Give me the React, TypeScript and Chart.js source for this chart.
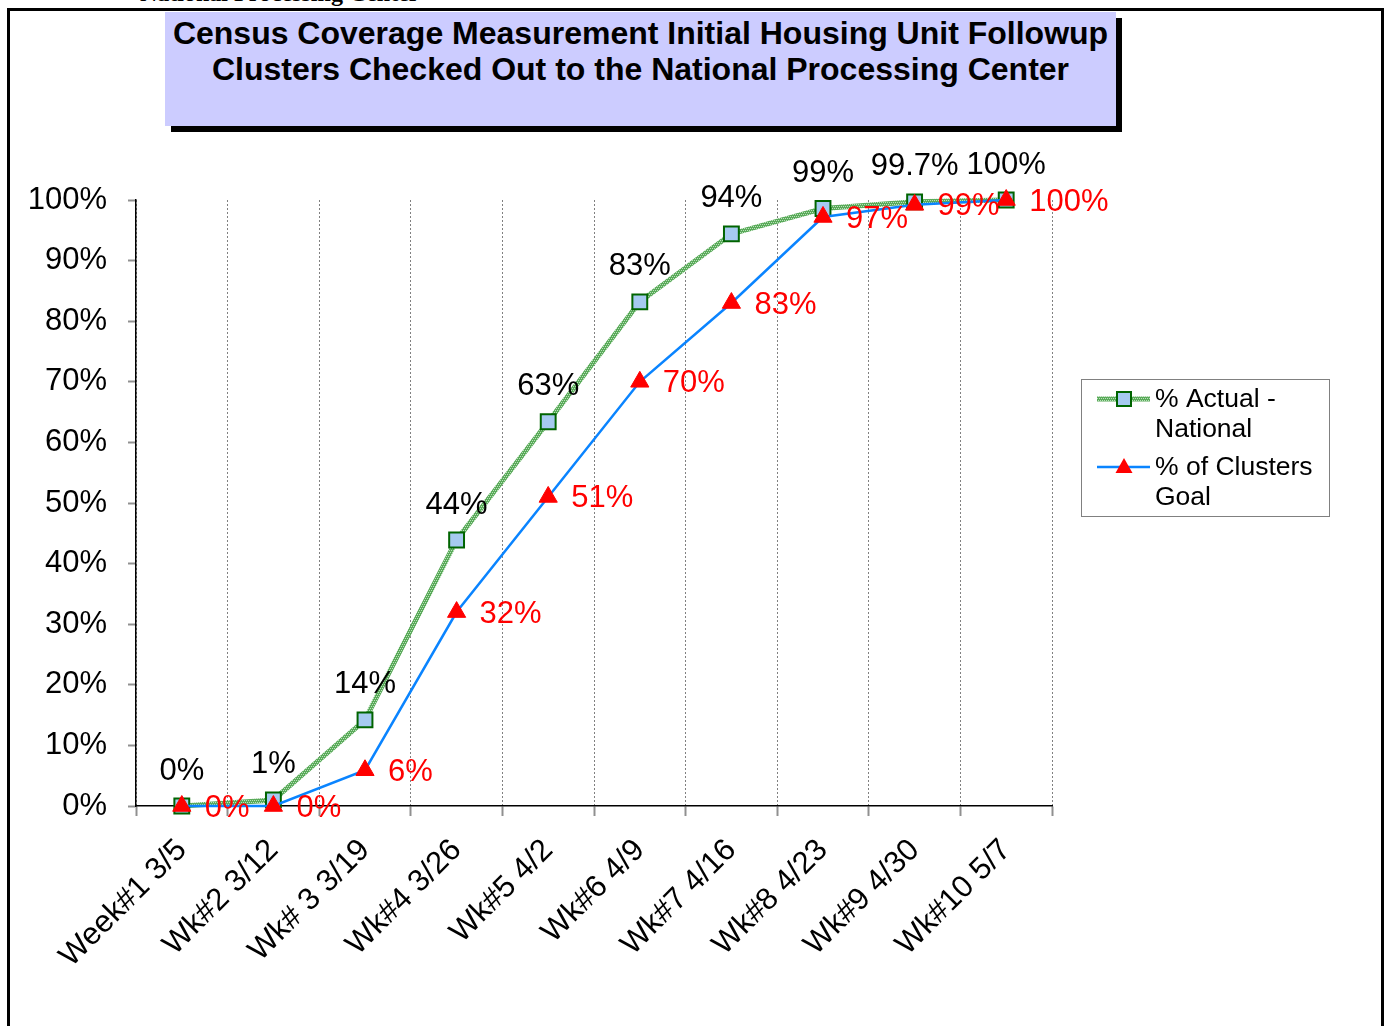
import React, { useEffect, useRef } from 'react';
import { Chart, registerables } from 'chart.js';

Chart.register(...registerables);

const categories = ['Week#1 3/5', 'Wk#2 3/12', 'Wk# 3 3/19', 'Wk#4 3/26', 'Wk#5 4/2', 'Wk#6 4/9', 'Wk#7 4/16', 'Wk#8 4/23', 'Wk#9 4/30', 'Wk#10 5/7'];
const actualValues = [0, 1, 14.2, 43.9, 63.4, 83.2, 94.4, 98.6, 99.7, 100];
const actualLabels = ['0%', '1%', '14%', '44%', '63%', '83%', '94%', '99%', '99.7%', '100%'];
const goalValues = [0, 0, 5.9, 32, 51, 70, 83, 97.2, 99.2, 100];
const goalLabels = ['0%', '0%', '6%', '32%', '51%', '70%', '83%', '97%', '99%', '100%'];
const seriesNames = [['% Actual -', 'National'], ['% of Clusters', 'Goal']];
const titleLines = ['Census Coverage Measurement Initial Housing Unit Followup', 'Clusters Checked Out to the National Processing Center'];
const yMin = 0;
const yMax = 100;
const yStep = 10;

const FONT = '"Liberation Sans", Arial, sans-serif';

function makePattern(): CanvasPattern | string {
  const c = document.createElement('canvas');
  c.width = 4;
  c.height = 4;
  const g = c.getContext('2d');
  if (!g) return '#66B366';
  g.fillStyle = '#5AAA5A';
  g.fillRect(0, 0, 4, 4);
  g.fillStyle = '#B9E2B9';
  g.fillRect(0, 0, 1, 1);
  g.fillRect(2, 0, 1, 1);
  g.fillRect(1, 2, 1, 1);
  g.fillRect(3, 2, 1, 1);
  const p = g.createPattern(c, 'repeat');
  return p || '#66B366';
}

export default function App() {
  const ref = useRef<HTMLCanvasElement>(null);

  useEffect(() => {
    if (!ref.current) return;
    const pattern = makePattern();

    const drawSquare = (ctx: CanvasRenderingContext2D, x: number, y: number) => {
      ctx.fillStyle = '#A6CAF0';
      ctx.strokeStyle = '#006400';
      ctx.lineWidth = 2;
      ctx.fillRect(x - 7, y - 7, 14, 14);
      ctx.strokeRect(x - 7, y - 7, 14, 14);
    };
    const drawTriangle = (ctx: CanvasRenderingContext2D, x: number, y: number) => {
      ctx.fillStyle = '#FF0000';
      ctx.beginPath();
      ctx.moveTo(x, y - 9);
      ctx.lineTo(x + 8.5, y + 6);
      ctx.lineTo(x - 8.5, y + 6);
      ctx.closePath();
      ctx.fill();
    };

    const labelsPlugin = {
      id: 'valueLabels',
      afterDatasetsDraw(chart: any) {
        const ctx = chart.ctx as CanvasRenderingContext2D;
        ctx.save();
        ctx.font = `31px ${FONT}`;
        ctx.textBaseline = 'middle';
        const m0 = chart.getDatasetMeta(0);
        ctx.fillStyle = '#000000';
        ctx.textAlign = 'center';
        m0.data.forEach((p: any, i: number) => ctx.fillText(actualLabels[i], p.x, p.y - 35));
        const m1 = chart.getDatasetMeta(1);
        ctx.fillStyle = '#FF0000';
        ctx.textAlign = 'left';
        m1.data.forEach((p: any, i: number) => ctx.fillText(goalLabels[i], p.x + 23, p.y + 2));
        ctx.restore();
      },
    };

    const legendPlugin = {
      id: 'customLegend',
      afterDraw(chart: any) {
        const ctx = chart.ctx as CanvasRenderingContext2D;
        ctx.save();
        ctx.strokeStyle = '#808080';
        ctx.lineWidth = 1;
        ctx.strokeRect(1081.5, 379.5, 248, 137);
        ctx.font = `26.5px ${FONT}`;
        ctx.textBaseline = 'middle';
        ctx.textAlign = 'left';
        const rows = [399, 467];
        ctx.strokeStyle = pattern as any;
        ctx.lineWidth = 5;
        ctx.beginPath();
        ctx.moveTo(1097, rows[0]);
        ctx.lineTo(1150, rows[0]);
        ctx.stroke();
        drawSquare(ctx, 1124, rows[0]);
        ctx.strokeStyle = '#0A84FF';
        ctx.lineWidth = 2.5;
        ctx.beginPath();
        ctx.moveTo(1097, rows[1]);
        ctx.lineTo(1150, rows[1]);
        ctx.stroke();
        drawTriangle(ctx, 1124, rows[1]);
        ctx.fillStyle = '#000000';
        seriesNames.forEach((lines, k) => {
          lines.forEach((t, j) => ctx.fillText(t, 1155, rows[k] + 1 + j * 30));
        });
        ctx.restore();
      },
    };

    const chart = new Chart(ref.current, {
      type: 'line',
      data: {
        labels: categories,
        datasets: [
          {
            label: seriesNames[0].join(' '),
            data: actualValues,
            borderColor: pattern as any,
            borderWidth: 5,
            pointStyle: 'rect',
            pointRadius: 10.5,
            pointBackgroundColor: '#A6CAF0',
            pointBorderColor: '#006400',
            pointBorderWidth: 2,
            tension: 0,
            order: 2,
            clip: false,
          },
          {
            label: seriesNames[1].join(' '),
            data: goalValues,
            borderColor: '#0A84FF',
            borderWidth: 2.5,
            pointStyle: 'triangle',
            pointRadius: 10.5,
            pointBackgroundColor: '#FF0000',
            pointBorderColor: '#FF0000',
            pointBorderWidth: 1,
            tension: 0,
            order: 1,
            clip: false,
          },
        ],
      },
      options: {
        responsive: false,
        animation: false,
        events: [],
        layout: { padding: { left: 0, top: 200, right: 338, bottom: 0 } },
        plugins: {
          legend: { display: false },
          title: { display: false },
          tooltip: { enabled: false },
        },
        scales: {
          x: {
            type: 'category',
            offset: true,
            grid: {
              offset: true,
              color: '#808080',
              lineWidth: 1,
              drawOnChartArea: true,
              drawTicks: true,
              tickLength: 10,
              tickColor: '#909090',
              tickWidth: 2,
              tickBorderDash: [],
            },
            border: { display: true, color: '#000000', width: 1.5, dash: [2, 2] },
            ticks: {
              color: '#000000',
              font: { family: FONT, size: 31 },
              minRotation: 45,
              maxRotation: 45,
              autoSkip: false,
              padding: 16,
            },
            afterFit: (s: any) => {
              s.height = 220;
            },
          },
          y: {
            min: yMin,
            max: yMax,
            grid: {
              drawOnChartArea: false,
              drawTicks: true,
              tickLength: 8,
              color: '#909090',
              tickWidth: 2,
            },
            border: { display: true, color: '#000000', width: 1.5 },
            ticks: {
              stepSize: yStep,
              color: '#000000',
              font: { family: FONT, size: 31 },
              padding: 21,
              callback: (v: any) => `${v}%`,
            },
            afterFit: (s: any) => {
              s.width = 136;
            },
          },
        },
      },
      plugins: [labelsPlugin, legendPlugin],
    });
    return () => chart.destroy();
  }, []);

  return (
    <div style={{ position: 'absolute', left: 0, top: 0, width: 1390, height: 1026, overflow: 'hidden', background: '#ffffff' }}>
      <div
        style={{
          position: 'absolute',
          left: 140,
          top: -19,
          font: 'bold 24px "Liberation Serif", "Times New Roman", serif',
          lineHeight: '24px',
          whiteSpace: 'nowrap',
          color: '#000',
        }}
      >
        National Processing Center
      </div>
      <div
        style={{
          position: 'absolute',
          left: 7,
          top: 8,
          width: 1371,
          height: 1100,
          border: '3px solid #000',
        }}
      />
      <div
        style={{
          position: 'absolute',
          left: 165,
          top: 12,
          width: 951,
          height: 111,
          paddingTop: 3,
          background: '#CCCCFF',
          boxShadow: '6px 6px 0 #000',
          textAlign: 'center',
          font: `bold 32px ${FONT}`,
          lineHeight: '36px',
          whiteSpace: 'nowrap',
          color: '#000',
        }}
      >
        {titleLines.map((t) => (
          <div key={t}>{t}</div>
        ))}
      </div>
      <canvas ref={ref} width={1390} height={1026} style={{ position: 'absolute', left: 0, top: 0, width: 1390, height: 1026 }} />
    </div>
  );
}
